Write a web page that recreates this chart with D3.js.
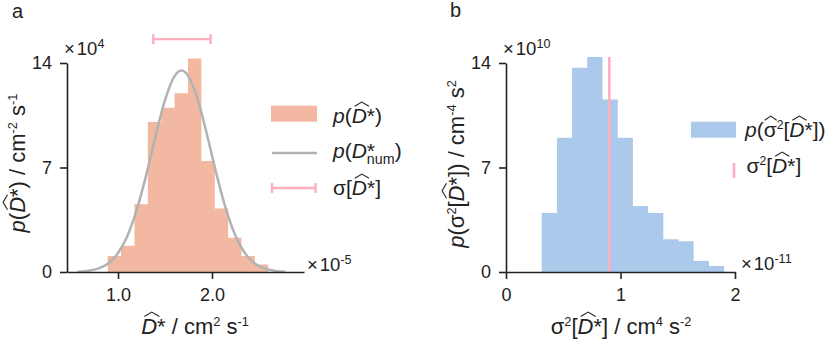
<!DOCTYPE html>
<html>
<head>
<meta charset="utf-8">
<script src="https://cdn.jsdelivr.net/npm/d3@7"></script>
<style>
  body { margin: 0; background: #fff; }
  svg { display: block; }
</style>
</head>
<body>
<svg id="chart"></svg>
<script>
const width = 832;
const height = 351;
const FONT = "'Liberation Sans', Arial, sans-serif";
const INK = "#222";

/* ---- data: panel a ---- */
const aBinEdges = [0.890, 1.032, 1.175, 1.317, 1.460, 1.602, 1.744, 1.887, 2.029, 2.172, 2.314, 2.456, 2.599];
const aDensity  = [1.07, 1.76, 4.53, 10.05, 11.0, 11.97, 14.3, 7.43, 4.26, 2.3, 1.07, 0.51];
const aCurveX   = [0.57, 0.675, 0.795, 0.895, 0.995, 1.095, 1.195, 1.295, 1.395, 1.495, 1.595, 1.675,
                   1.755, 1.855, 1.955, 2.055, 2.155, 2.255, 2.355, 2.455, 2.555, 2.675, 2.78];
const aCurveY   = [0.02, 0.074, 0.24, 0.57, 1.22, 2.35, 4.07, 6.37, 8.98, 11.41, 13.06, 13.5,
                   13.06, 11.41, 8.98, 6.37, 4.07, 2.35, 1.22, 0.57, 0.24, 0.074, 0.02];
const aSigmaBar = [1.375, 1.985];   // x extent of the error bar
const aSigmaBarY = 15.6;            // height it is drawn at
const aXTicks = [1.0, 2.0];
const aYTicks = [0, 7, 14];

/* ---- data: panel b ---- */
const bBinEdges = [0.312, 0.445, 0.577, 0.710, 0.843, 0.976, 1.108, 1.241, 1.374, 1.507, 1.639, 1.772, 1.905];
const bDensity  = [3.95, 9.0, 13.69, 14.4, 11.55, 9.0, 4.42, 3.95, 2.19, 2.06, 0.74, 0.40];
const bVarLine  = [0.902, 14.4];    // x, top
const bXTicks = [0, 1, 2];
const bYTicks = [0, 7, 14];

const COLORS = {
  salmon: "#f3b8a2",
  blue: "#abc9ea",
  gray: "#b2b2b2",
  pink: "#ffadbf"
};

const svg = d3.select("#chart").attr("width", width).attr("height", height)
  .style("font-family", FONT);

/* rich text helper: segments {t, it, sup, sub, hat, stack, dx} */
function rich(parent, x, y, segs, opts = {}) {
  const fs = opts.size || 17.5;
  const supSize = opts.supSize || 0.58;
  const t = parent.append("text")
    .attr("x", x).attr("y", y)
    .attr("text-anchor", opts.anchor || "start")
    .style("font-size", fs + "px")
    .style("fill", INK);
  let cur = 0;
  let prev = null;
  const hats = [];
  segs.forEach(s => {
    const target = s.sup ? -0.38 * fs : s.sub ? 0.28 * fs : 0;
    const ts = t.append("tspan").text(s.t).attr("dy", target - cur);
    cur = target;
    if (s.sup || s.sub) ts.style("font-size", (fs * supSize) + "px");
    if (s.it) ts.style("font-style", "italic");
    if (s.dx) ts.attr("dx", s.dx);
    if (s.stack && prev) ts.attr("dx", -prev.node().getComputedTextLength());
    if (s.hat) hats.push({ ts, it: s.it });
    prev = ts;
  });
  hats.forEach(h => {
    const b = h.ts.node().getBBox();
    const sk = h.it ? fs * 0.12 : 0.5;
    const top = b.y + b.height * 0.1;
    parent.append("path")
      .attr("d", `M${b.x + sk + 0.5},${top} L${b.x + sk + b.width / 2},${top - fs * 0.2} L${b.x + sk + b.width - 0.5},${top}`)
      .attr("fill", "none")
      .attr("stroke", INK)
      .attr("stroke-width", 1.1);
  });
  return t;
}

function styleAxis(g) {
  g.select(".domain").attr("stroke", INK).attr("stroke-width", 1.6);
  g.selectAll(".tick line").attr("stroke", INK).attr("stroke-width", 1.6);
  g.selectAll(".tick text").style("font-size", "18px").style("font-family", FONT).attr("fill", INK);
}

function stepArea(edges, dens, x, y) {
  const pts = dens.map((d, i) => [edges[i], d]);
  pts.push([edges[edges.length - 1], dens[dens.length - 1]]);
  return d3.area()
    .x(d => x(d[0]))
    .y0(y(0))
    .y1(d => y(d[1]))
    .curve(d3.curveStepAfter)(pts);
}

const LABEL = 22;
const LEG = 21;
const MULT = 18.5;

/* =========================
   PANEL A
=========================*/
const xa = d3.scaleLinear().domain([0.457, 2.979]).range([67, 304]);
const ya = d3.scaleLinear().domain([0, 14]).range([272, 63]);

svg.append("path")
  .attr("d", stepArea(aBinEdges, aDensity, xa, ya))
  .attr("fill", COLORS.salmon);

svg.append("path")
  .datum(aCurveX.map((v, i) => [v, aCurveY[i]]))
  .attr("d", d3.line().x(d => xa(d[0])).y(d => ya(d[1])).curve(d3.curveMonotoneX))
  .attr("fill", "none")
  .attr("stroke", COLORS.gray)
  .attr("stroke-width", 2.5);

// sigma error bar
const ebY = ya(aSigmaBarY);
const eb = svg.append("g").attr("stroke", COLORS.pink).attr("stroke-width", 2.4);
eb.append("line").attr("x1", xa(aSigmaBar[0])).attr("x2", xa(aSigmaBar[1])).attr("y1", ebY).attr("y2", ebY);
aSigmaBar.forEach(v => eb.append("line").attr("x1", xa(v)).attr("x2", xa(v)).attr("y1", ebY - 5).attr("y2", ebY + 5));

svg.append("g").attr("transform", `translate(0,${ya(0)})`)
  .call(d3.axisBottom(xa).tickValues(aXTicks).tickFormat(d3.format(".1f"))
    .tickSize(7).tickSizeOuter(0).tickPadding(9))
  .call(styleAxis);

svg.append("g").attr("transform", `translate(${xa.range()[0]},0)`)
  .call(d3.axisLeft(ya).tickValues(aYTicks).tickSize(7).tickSizeOuter(0).tickPadding(8))
  .call(styleAxis);

rich(svg, 64, 55, [{ t: "×" }, { t: "10", dx: 2 }, { t: "4", sup: true }], { size: MULT, supSize: 0.68 });
rich(svg, 307, 271, [{ t: "×" }, { t: "10", dx: 2 }, { t: "-5", sup: true }], { size: MULT, supSize: 0.68 });

rich(svg, 195, 334, [
  { t: "D", it: true, hat: true }, { t: "* / cm" }, { t: "2", sup: true }, { t: " s" }, { t: "-1", sup: true }
], { anchor: "middle", size: LABEL });

const aYL = svg.append("g").attr("transform", "translate(25,163) rotate(-90)");
rich(aYL, 0, 0, [
  { t: "p", it: true }, { t: "(" }, { t: "D", it: true, hat: true }, { t: "*) / cm" },
  { t: "-2", sup: true }, { t: " s" }, { t: "-1", sup: true }
], { anchor: "middle", size: LABEL });

// legend a
svg.append("rect").attr("x", 271).attr("y", 105.7).attr("width", 46).attr("height", 16).attr("fill", COLORS.salmon);
rich(svg, 333, 123, [{ t: "p", it: true }, { t: "(" }, { t: "D", it: true, hat: true }, { t: "*)" }], { size: LEG });

svg.append("line").attr("x1", 272).attr("x2", 317).attr("y1", 153).attr("y2", 153)
  .attr("stroke", COLORS.gray).attr("stroke-width", 2.5);
rich(svg, 333, 158, [{ t: "p", it: true }, { t: "(" }, { t: "D", it: true }, { t: "*" },
  { t: "num", sub: true, stack: true }, { t: ")" }], { size: LEG, supSize: 0.68 });

const leb = svg.append("g").attr("stroke", COLORS.pink).attr("stroke-width", 2.4);
leb.append("line").attr("x1", 272).attr("x2", 315.5).attr("y1", 188).attr("y2", 188);
[272, 315.5].forEach(v => leb.append("line").attr("x1", v).attr("x2", v).attr("y1", 183).attr("y2", 193));
rich(svg, 333, 195, [{ t: "σ[" }, { t: "D", it: true, hat: true }, { t: "*]" }], { size: LEG });

svg.append("text").attr("x", 12).attr("y", 18).style("font-size", "20px").attr("fill", INK).text("a");

/* =========================
   PANEL B
=========================*/
const xb = d3.scaleLinear().domain([0, 2]).range([506, 735]);
const yb = d3.scaleLinear().domain([0, 14]).range([272, 63]);

svg.append("path")
  .attr("d", stepArea(bBinEdges, bDensity, xb, yb))
  .attr("fill", COLORS.blue);

svg.append("line")
  .attr("x1", xb(bVarLine[0])).attr("x2", xb(bVarLine[0]))
  .attr("y1", yb(0)).attr("y2", yb(bVarLine[1]))
  .attr("stroke", COLORS.pink).attr("stroke-width", 2.6);

svg.append("g").attr("transform", `translate(0,${yb(0)})`)
  .call(d3.axisBottom(xb).tickValues(bXTicks).tickFormat(d3.format("d"))
    .tickSize(7).tickSizeOuter(0).tickPadding(9))
  .call(styleAxis);

svg.append("g").attr("transform", `translate(${xb.range()[0]},0)`)
  .call(d3.axisLeft(yb).tickValues(bYTicks).tickSize(7).tickSizeOuter(0).tickPadding(8))
  .call(styleAxis);

rich(svg, 503, 55, [{ t: "×" }, { t: "10", dx: 2 }, { t: "10", sup: true }], { size: MULT, supSize: 0.68 });
rich(svg, 741, 270, [{ t: "×" }, { t: "10", dx: 2 }, { t: "-11", sup: true }], { size: MULT, supSize: 0.68 });

rich(svg, 621, 334, [
  { t: "σ" }, { t: "2", sup: true }, { t: "[" }, { t: "D", it: true, hat: true }, { t: "*] / cm" },
  { t: "4", sup: true }, { t: " s" }, { t: "-2", sup: true }
], { anchor: "middle", size: LABEL });

const bYL = svg.append("g").attr("transform", "translate(464,164) rotate(-90)");
rich(bYL, 0, 0, [
  { t: "p", it: true }, { t: "(σ" }, { t: "2", sup: true }, { t: "[" }, { t: "D", it: true, hat: true },
  { t: "*]) / cm" }, { t: "-4", sup: true }, { t: " s" }, { t: "2", sup: true }
], { anchor: "middle", size: LABEL });

// legend b
svg.append("rect").attr("x", 691).attr("y", 121.7).attr("width", 45).attr("height", 16).attr("fill", COLORS.blue);
rich(svg, 745, 137, [{ t: "p", it: true }, { t: "(" }, { t: "σ", hat: true }, { t: "2", sup: true },
  { t: "[" }, { t: "D", it: true, hat: true }, { t: "*])" }], { size: LEG });

svg.append("line").attr("x1", 734).attr("x2", 734).attr("y1", 163).attr("y2", 178)
  .attr("stroke", COLORS.pink).attr("stroke-width", 2.6);
rich(svg, 746.5, 173, [{ t: "σ" }, { t: "2", sup: true }, { t: "[" }, { t: "D", it: true, hat: true }, { t: "*]" }], { size: LEG });

svg.append("text").attr("x", 450).attr("y", 17).style("font-size", "20px").attr("fill", INK).text("b");
</script>
</body>
</html>
